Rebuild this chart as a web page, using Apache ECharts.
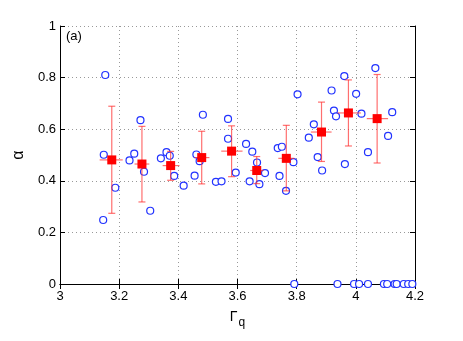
<!DOCTYPE html>
<html>
<head>
<meta charset="utf-8">
<script src="https://cdn.jsdelivr.net/npm/echarts@6/dist/echarts.min.js"></script>
<style>
html, body { margin: 0; padding: 0; background: #fff; }
#chart { width: 463px; height: 341px; }
</style>
</head>
<body>
<div id="chart"></div>
<script>
// raw points (blue circles)
var circX = [3.153, 3.148, 3.187, 3.146, 3.235, 3.251, 3.272, 3.284, 3.305, 3.341, 3.360, 3.371, 3.386, 3.418,
    3.455, 3.461, 3.472, 3.483, 3.527, 3.546, 3.568, 3.568, 3.594, 3.629, 3.641, 3.650, 3.666, 3.674, 3.693,
    3.736, 3.750, 3.742, 3.764, 3.789, 3.803, 3.792, 3.841, 3.858, 3.871, 3.886, 3.918, 3.926, 3.933, 3.961,
    3.963, 4.001, 4.019, 4.041, 4.066, 4.109, 4.123,
    3.938, 3.994, 4.011, 4.041, 4.095, 4.106, 4.131, 4.138, 4.162, 4.177, 4.191];
var circY = [0.810, 0.501, 0.373, 0.248, 0.479, 0.505, 0.635, 0.435, 0.284, 0.487, 0.511, 0.497, 0.419, 0.381,
    0.420, 0.502, 0.476, 0.656, 0.396, 0.398, 0.640, 0.563, 0.432, 0.543, 0.398, 0.513, 0.471, 0.387, 0.430,
    0.527, 0.532, 0.419, 0.361, 0.472, 0.735, 0, 0.567, 0.619, 0.492, 0.440, 0.750, 0.672, 0.650, 0.806,
    0.465, 0.737, 0.660, 0.511, 0.837, 0.574, 0.666,
    0, 0, 0, 0, 0, 0, 0, 0, 0, 0, 0];

// binned means (red squares) with error bars
var meanX = [3.175, 3.277, 3.374, 3.479, 3.580, 3.665, 3.765, 3.884, 3.975, 4.072];
var meanY = [0.481, 0.465, 0.459, 0.490, 0.515, 0.440, 0.487, 0.589, 0.663, 0.641];
var yLow  = [0.274, 0.318, 0.402, 0.388, 0.416, 0.389, 0.361, 0.475, 0.535, 0.469];
var yHigh = [0.689, 0.611, 0.514, 0.592, 0.613, 0.494, 0.615, 0.705, 0.791, 0.812];
var xLow  = [3.134, 3.252, 3.347, 3.455, 3.545, 3.643, 3.738, 3.848, 3.938, 4.037];
var xHigh = [3.212, 3.302, 3.404, 3.505, 3.617, 3.688, 3.792, 3.918, 4.017, 4.109];

var circData = circX.map(function (x, i) { return [x, circY[i]]; });
var meanData = meanX.map(function (x, i) { return [x, meanY[i]]; });
var errData = meanX.map(function (x, i) {
    return [x, meanY[i], yLow[i], yHigh[i], xLow[i], xHigh[i]];
});

var gridLine = { show: true, lineStyle: { color: '#999', type: [1, 3], width: 1 } };
var font = 'Liberation Sans, Arial, sans-serif';
var errColor = 'rgba(255,50,50,0.7)';

var chart = echarts.init(document.getElementById('chart'));
chart.setOption({
    animation: false,
    backgroundColor: '#fff',
    grid: { left: 60, right: 48, top: 26, bottom: 57 },
    xAxis: [{
        type: 'value', min: 3, max: 4.2, interval: 0.2,
        axisLine: { lineStyle: { color: '#000' } },
        axisTick: { inside: true, length: 5, lineStyle: { color: '#000' } },
        axisLabel: { color: '#000', fontSize: 13, fontFamily: font, margin: 6,
            formatter: function (v) { return +v.toFixed(1) + ''; } },
        splitLine: gridLine,
        name: '{g|\u0393}{s|q}',
        nameLocation: 'middle', nameGap: 22,
        nameTextStyle: {
            rich: {
                g: { fontSize: 14, fontFamily: font, color: '#000' },
                s: { fontSize: 12, fontFamily: font, color: '#000', padding: [11, 0, 0, 1] }
            }
        }
    }, {
        type: 'value', min: 3, max: 4.2, interval: 0.2, position: 'top',
        axisLine: { lineStyle: { color: '#000' } },
        axisTick: { inside: true, length: 5, lineStyle: { color: '#000' } },
        axisLabel: { show: false }, splitLine: { show: false }
    }],
    yAxis: [{
        type: 'value', min: 0, max: 1, interval: 0.2,
        axisLine: { show: true, lineStyle: { color: '#000' } },
        axisTick: { show: true, inside: true, length: 5, lineStyle: { color: '#000' } },
        axisLabel: { color: '#000', fontSize: 13, fontFamily: font, margin: 4 },
        splitLine: gridLine,
        name: '\u03b1', nameLocation: 'middle', nameGap: 32,
        nameTextStyle: { fontSize: 16, fontFamily: font, color: '#000' }
    }, {
        type: 'value', min: 0, max: 1, interval: 0.2, position: 'right',
        axisLine: { show: true, lineStyle: { color: '#000' } },
        axisTick: { show: true, inside: true, length: 5, lineStyle: { color: '#000' } },
        axisLabel: { show: false }, splitLine: { show: false }
    }],
    graphic: [{
        type: 'text', left: 66, top: 30,
        style: { text: '(a)', fontSize: 13, fontFamily: font, fill: '#000' }
    }],
    series: [{
        type: 'scatter',
        data: circData,
        symbol: 'circle',
        symbolSize: 7,
        itemStyle: { color: '#fff', borderColor: '#2233ff', borderWidth: 1.2, opacity: 1 },
        z: 2
    }, {
        type: 'custom',
        data: errData,
        renderItem: function (params, api) {
            var c = api.coord([api.value(0), api.value(1)]);
            var lo = api.coord([api.value(0), api.value(2)]);
            var hi = api.coord([api.value(0), api.value(3)]);
            var l = api.coord([api.value(4), api.value(1)]);
            var r = api.coord([api.value(5), api.value(1)]);
            var cap = 3.5;
            var st = { stroke: errColor, lineWidth: 1.2 };
            return {
                type: 'group',
                children: [
                    { type: 'line', shape: { x1: lo[0], y1: lo[1], x2: hi[0], y2: hi[1] }, style: st },
                    { type: 'line', shape: { x1: lo[0] - cap, y1: lo[1], x2: lo[0] + cap, y2: lo[1] }, style: st },
                    { type: 'line', shape: { x1: hi[0] - cap, y1: hi[1], x2: hi[0] + cap, y2: hi[1] }, style: st },
                    { type: 'line', shape: { x1: l[0], y1: c[1], x2: r[0], y2: c[1] }, style: st }
                ]
            };
        },
        z: 3
    }, {
        type: 'scatter',
        data: meanData,
        symbol: 'rect',
        symbolSize: 9,
        itemStyle: { color: '#ff0000', opacity: 1 },
        z: 4
    }]
});
</script>
</body>
</html>
